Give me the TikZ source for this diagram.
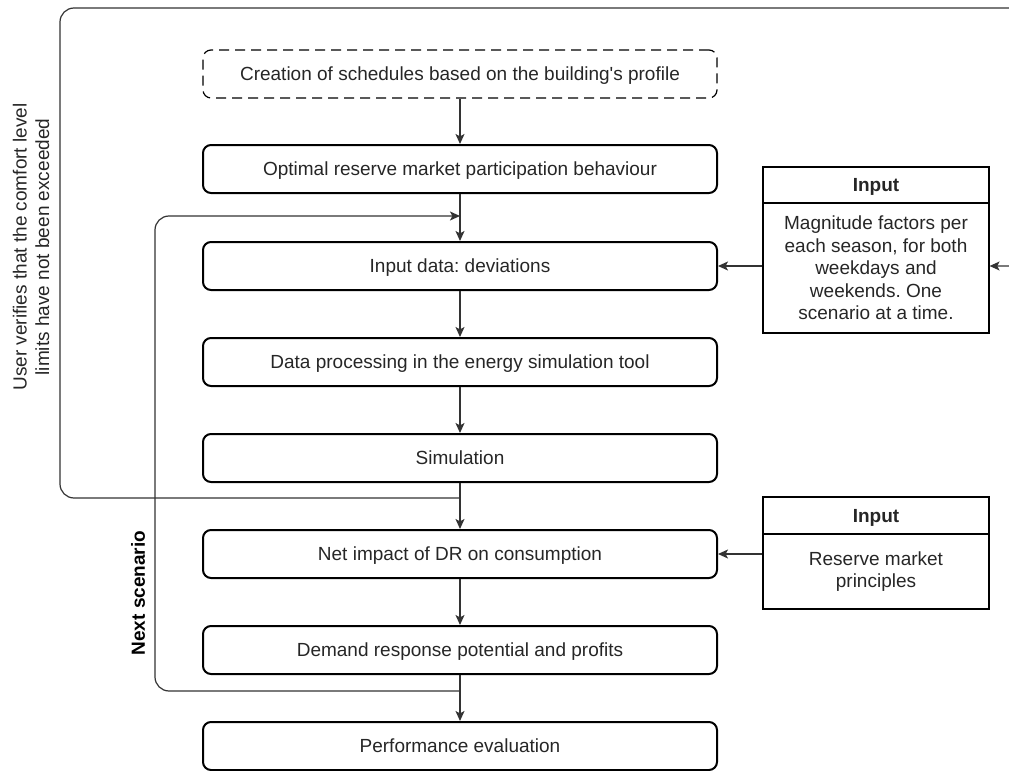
\documentclass[tikz,border=0pt]{standalone}
\usepackage{fontspec}
\setmainfont{Liberation Sans}
\usetikzlibrary{arrows.meta}
\frenchspacing

\tikzset{
  stepbox/.style={draw=black, line width=1pt, rounded corners=4pt, minimum width=257pt, minimum height=24pt, inner sep=0pt, text height=6.8pt, text depth=0pt, text=black!85},
  planbox/.style={stepbox, line width=0.6pt, dash pattern=on 5pt off 3pt},
  inhead/.style={draw=black, line width=0.6pt, minimum width=113pt, minimum height=18pt, inner sep=0pt, text height=6.8pt, text depth=0pt, text=black!85},
  inbody/.style={draw=black, line width=0.6pt, minimum width=113pt, inner sep=0pt, align=center, text=black!85},
  arr/.style={draw=black!80, line width=0.6pt, -{Stealth[length=5pt,width=4.5pt,inset=1.2pt]}},
  loopline/.style={arr, rounded corners=7pt}
}

\begin{document}
\begin{tikzpicture}[x=0.5pt,y=-0.5pt,font=\fontsize{9.5}{11.25}\selectfont\frenchspacing]
                    \useasboundingbox (0,0) rectangle (1009,771);
                    \clip (0,0) rectangle (1009,771);

                    % Main steps
                    \node[planbox] (sched) at (460,74) {Creation of schedules based on the building\textquotesingle s profile};
                    \node[stepbox] (opt) at (460,169) {Optimal reserve market participation behaviour};
                    \node[stepbox] (inp) at (460,266) {Input data: deviations};
                    \node[stepbox] (proc) at (460,362) {Data processing in the energy simulation tool};
                    \node[stepbox] (sim) at (460,458) {Simulation};
                    \node[stepbox] (net) at (460,554) {Net impact of DR on consumption};
                    \node[stepbox] (dem) at (460,650) {Demand response potential and profits};
                    \node[stepbox] (perf) at (460,746) {Performance evaluation};

                    % Magnitude factors input
                    \node[inhead] (in1t) at (876,185) {\textbf{Input}};
                    \node[inbody, minimum height=65pt] (in1) at (876,268) {Magnitude factors per\\each season, for both\\weekdays and\\weekends. One\\scenario at a time.};

                    % Reserve market input
                    \node[inhead, minimum height=18.5pt] (in2t) at (876,515.5) {\textbf{Input}};
                    \node[inbody, minimum height=37.5pt] (in2) at (876,571.5) {Reserve market\\principles};

                    % Flow
                    \draw[arr] (sched) -- (opt);
                    \draw[arr] (opt) -- (inp);
                    \draw[arr] (inp) -- (proc);
                    \draw[arr] (proc) -- (sim);
                    \draw[arr] (sim) -- (net);
                    \draw[arr] (net) -- (dem);
                    \draw[arr] (dem) -- (perf);
                    \draw[arr] (in1.west |- inp) -- (inp);
                    \draw[arr] (in2.west |- net) -- (net);

                    % Next scenario loop
                    \coordinate (nsb) at (460,691);
                    \coordinate (nsl) at (155,691);
                    \coordinate (nst) at (460,216);
                    \draw[loopline] (nsb) -- (nsl) |- (nst);
                    \node[rotate=90] (nxt) at (138,593) {\textbf{Next scenario}};

                    % Comfort check loop
                    \coordinate (cfb) at (460,498);
                    \coordinate (cfl) at (60,498);
                    \coordinate (cfr) at (1040,8);
                    \draw[loopline] (cfb) -- (cfl) |- (cfr) |- (in1.east |- inp);
                    \node[rotate=90, align=center, text=black!85] (usr) at (31,247) {User verifies that the comfort level\\limits have not been exceeded};
                \end{tikzpicture}
\end{document}
